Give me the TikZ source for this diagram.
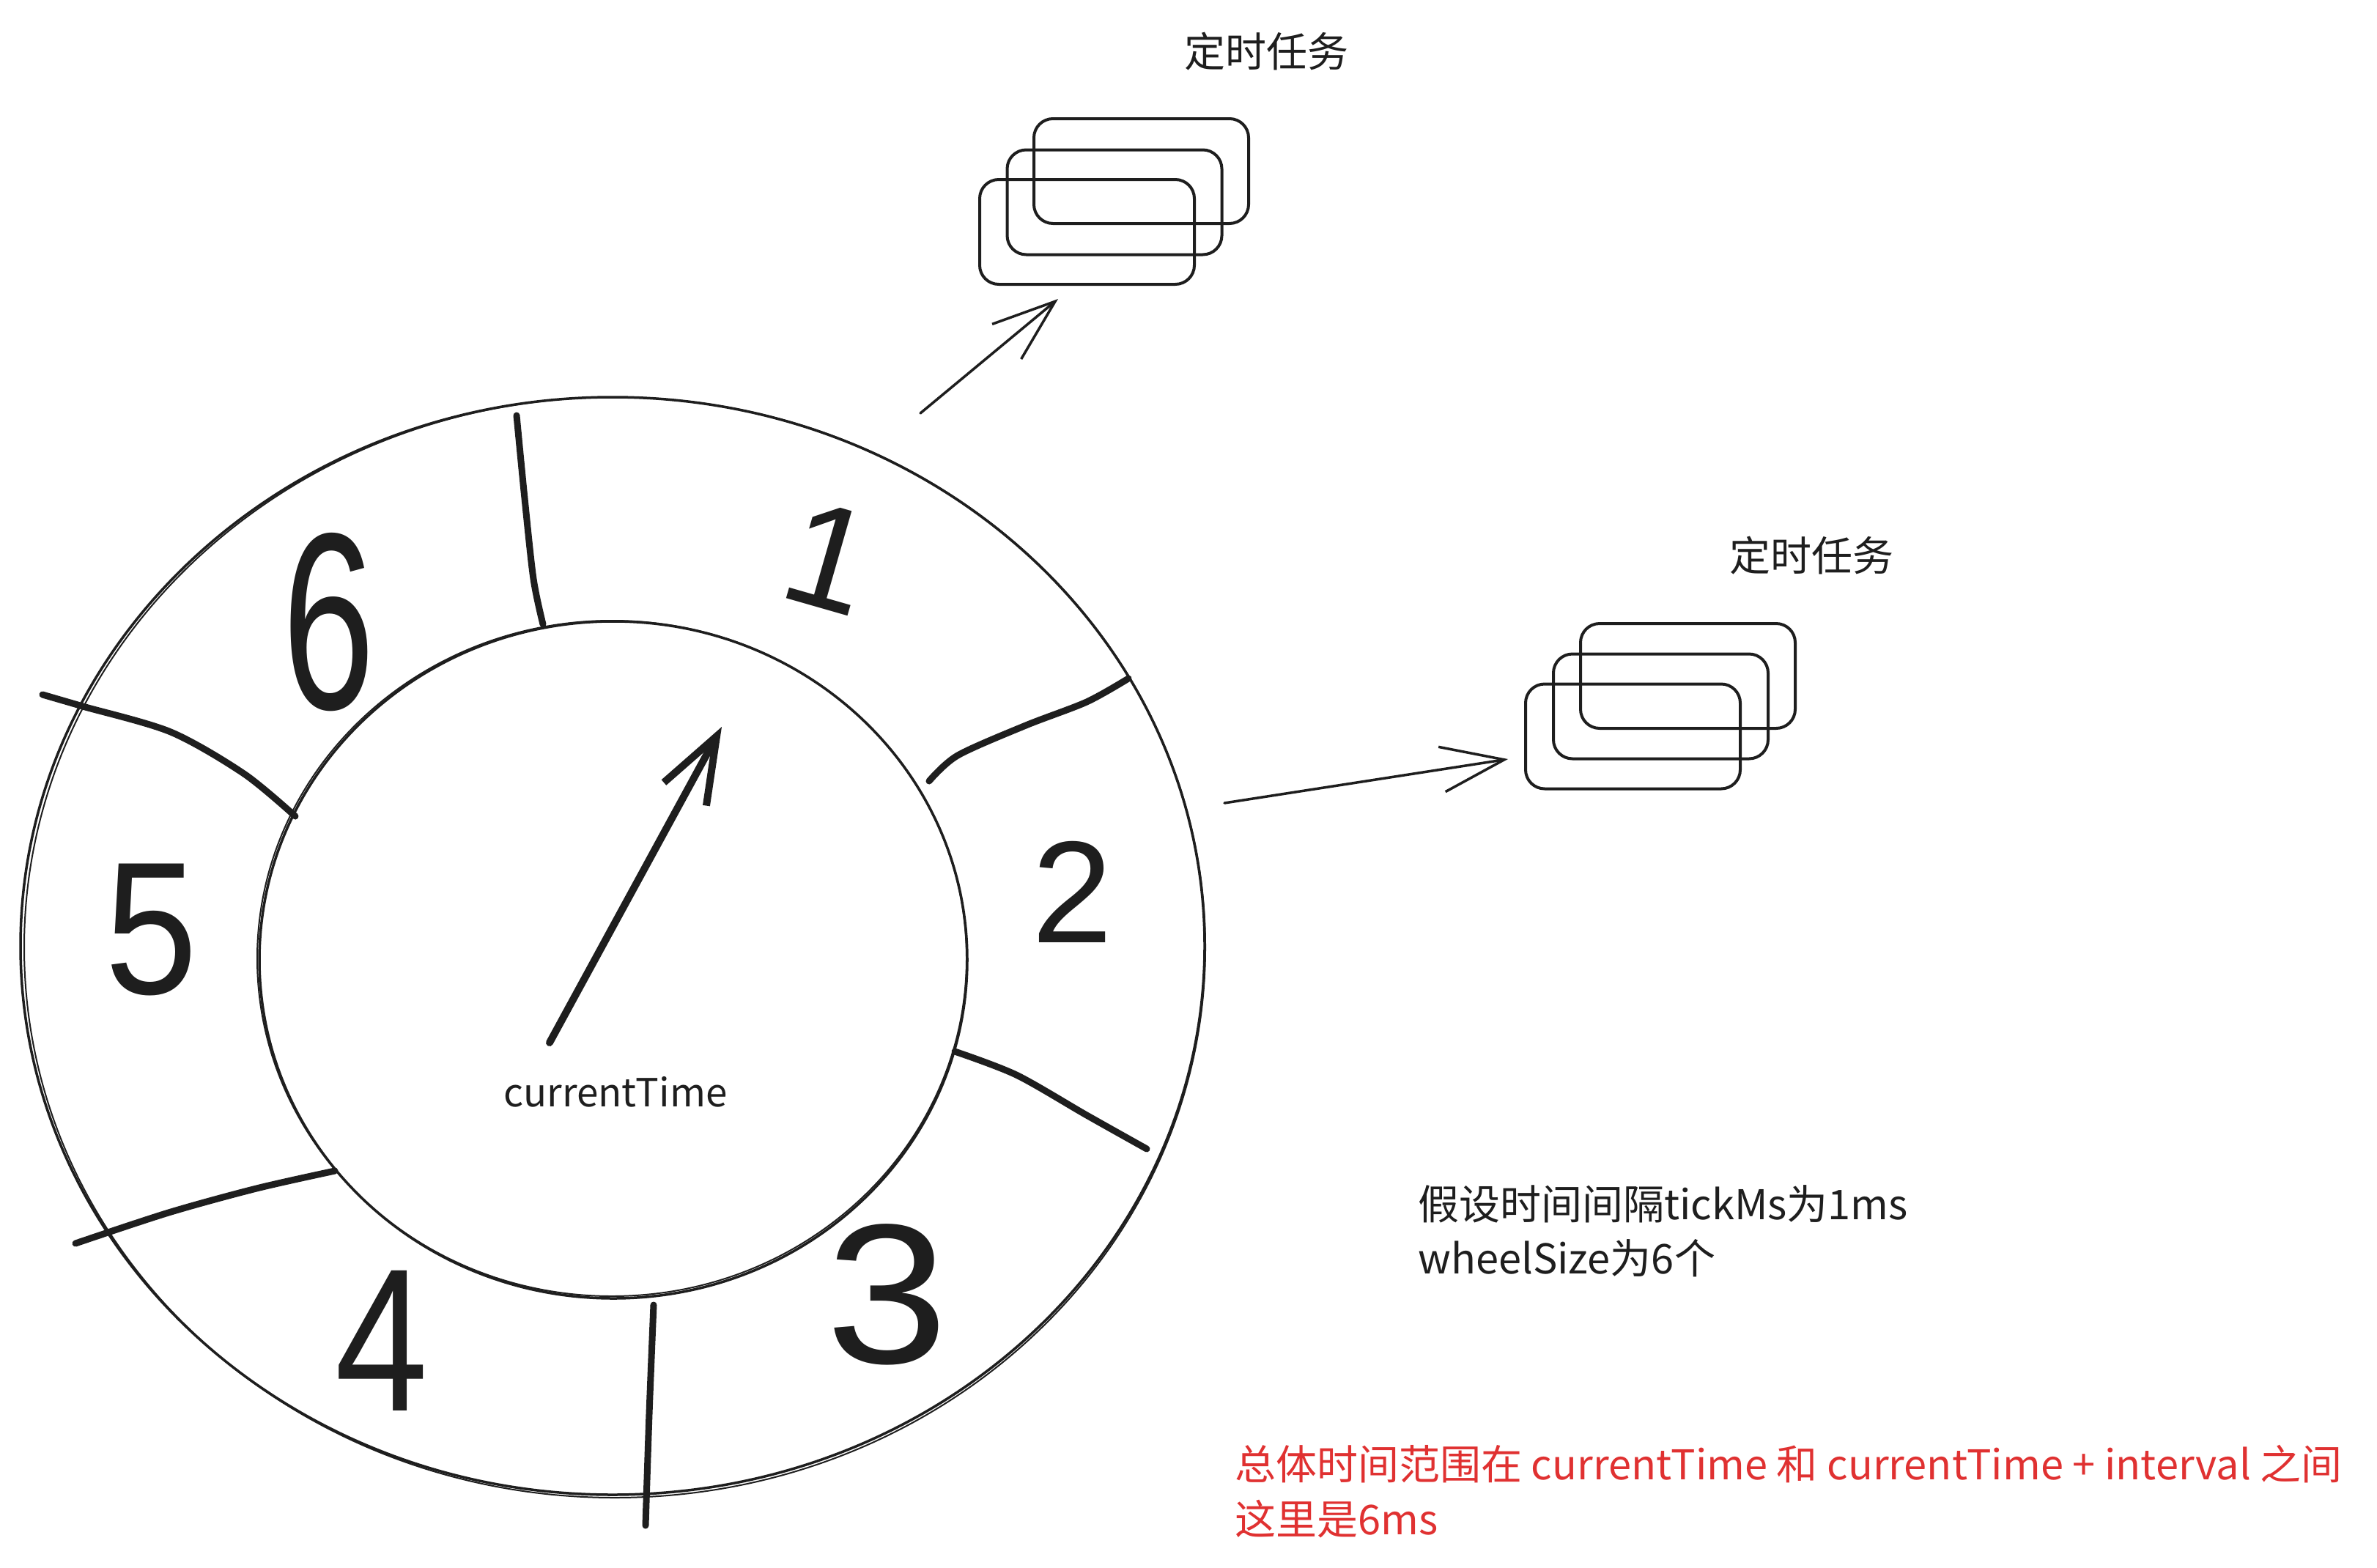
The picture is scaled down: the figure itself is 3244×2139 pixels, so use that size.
\documentclass[tikz,border=0pt]{standalone}
\usepackage{fontspec}
\usetikzlibrary{arrows.meta,shapes.geometric}
\newfontfamily\cjk{Noto Sans CJK SC}
\newfontfamily\digitfont{Liberation Sans}
\definecolor{ink}{HTML}{1E1E1E}
\definecolor{redink}{HTML}{E03131}
\tikzset{
  ring/.style={draw=ink, line width=3.5pt, ellipse, inner sep=0pt},
  ringghost/.style={draw=ink, line width=2pt},
  divider/.style={draw=ink, line width=9pt, line cap=round, line join=round},
  taskbox/.style={draw=ink, line width=4pt, rounded corners=26pt, minimum width=293pt, minimum height=143pt, inner sep=0pt},
  digit/.style={text=ink, inner sep=0pt, anchor=base, font=\digitfont},
  label/.style={text=ink, inner sep=0pt, font=\cjk\fontsize{56}{74}\selectfont},
  redlabel/.style={text=redink, inner sep=0pt, font=\cjk\fontsize{56}{75}\selectfont},
  thinarrow/.style={draw=ink, line width=3.5pt, line cap=round, -{Straight Barb[length=86pt, width=62pt, line width=3.5pt]}},
  hand/.style={draw=ink, line width=10pt, line cap=round, -{Straight Barb[length=90pt, width=66pt, line width=10pt]}}
}
\begin{document}
\begin{tikzpicture}[x=1pt, y=-1pt]
\useasboundingbox (0,0) rectangle (3244,2139);
\fill[white] (0,0) rectangle (3244,2139);

% wheel
\node[ring, minimum width=1616pt, minimum height=1498pt] (outer) at (836,1291) {};
\draw[ringghost] (839,1293) ellipse [x radius=806pt, y radius=751pt];
\node[ring, minimum width=966pt, minimum height=924pt] (inner) at (837,1310) {};
\draw[ringghost] (835,1308) ellipse [x radius=484pt, y radius=461pt];

% slot dividers
\draw[divider] plot[smooth] coordinates {(705,567) (716,680) (728,790) (741,852)};
\draw[divider] plot[smooth] coordinates {(1268,1066) (1307,1031) (1400,990) (1483,958) (1540,926)};
\draw[divider] plot[smooth] coordinates {(1303,1435) (1387,1467) (1483,1522) (1565,1568)};
\draw[divider] plot[smooth] coordinates {(892,1781) (886,1930) (881,2082)};
\draw[divider] plot[smooth] coordinates {(457,1598) (350,1622) (230,1655) (103,1697)};
\draw[divider] plot[smooth] coordinates {(58,948) (113,964) (233,999) (333,1056) (403,1114)};

% slot numbers
\node[digit, font=\digitfont\fontsize{202}{202}\selectfont, rotate=-16] (n1) at (1112,828) {1};
\node[digit, font=\digitfont\fontsize{198}{198}\selectfont] (n2) at (1464,1286) {2};
\node[digit, font=\digitfont\fontsize{272}{272}\selectfont, xscale=1.1] (n3) at (1211,1860) {3};
\node[digit, font=\digitfont\fontsize{278}{278}\selectfont, xscale=0.82] (n4) at (521,1925) {4};
\node[digit, font=\digitfont\fontsize{258}{258}\selectfont, xscale=0.88] (n5) at (207,1356) {5};
\node[digit, font=\digitfont\fontsize{344}{344}\selectfont, xscale=0.66] (n6) at (449,967) {6};

% clock hand
\coordinate (handstart) at (750,1423);
\coordinate (handtip) at (985,992);
\draw[hand] (handstart) -- (handtip);
\node[label, anchor=base, font=\cjk\fontsize{53}{70}\selectfont] (cur) at (840,1510) {currentTime};

% task group 1
\node[taskbox] (t1a) at (1557.5,233.5) {};
\node[taskbox] (t1b) at (1521,276) {};
\node[taskbox] (t1c) at (1483.5,316.5) {};
\node[label, anchor=base west] (title1) at (1616,91) {定时任务};
\coordinate (a1s) at (1256,564);
\coordinate (a1e) at (1444,408);
\draw[thinarrow] (a1s) -- (a1e);

% task group 2
\node[taskbox] (t2a) at (2303.5,922.5) {};
\node[taskbox] (t2b) at (2266.5,964) {};
\node[taskbox] (t2c) at (2228.5,1005) {};
\node[label, anchor=base west] (title2) at (2360,779) {定时任务};
\coordinate (a2s) at (1671,1096);
\coordinate (a2e) at (2058,1036);
\draw[thinarrow] (a2s) -- (a2e);

% notes
\node[label, anchor=base west, align=left] (note) at (1935,1738) {假设时间间隔tickMs为1ms\\wheelSize为6个};
\node[redlabel, anchor=base west, align=left] (range) at (1685,2094) {总体时间范围在 currentTime 和 currentTime + interval 之间\\这里是6ms};
\end{tikzpicture}
\end{document}
